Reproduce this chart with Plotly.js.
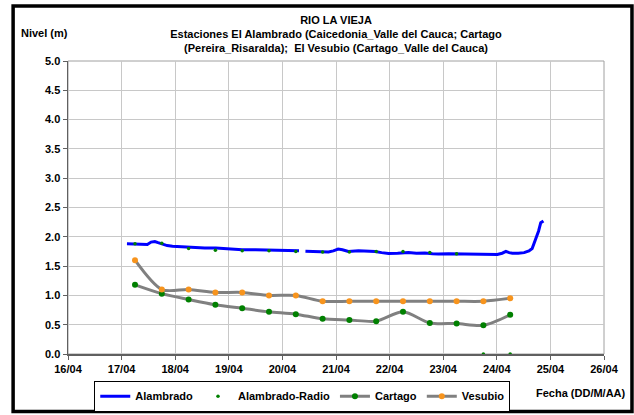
<!DOCTYPE html>
<html>
<head>
<meta charset="utf-8">
<script src="https://cdn.plot.ly/plotly-3.0.1.min.js"></script>
<style>
html,body{margin:0;padding:0;background:#fff;}
#chart{width:634px;height:415px;}
</style>
</head>
<body>
<div id="chart"></div>
<script>
// Alambrado (continuous record)
const alamTimes = [
 '2011-04-17 02:24','2011-04-17 04:48','2011-04-17 07:12','2011-04-17 09:36','2011-04-17 11:31',
 '2011-04-17 13:12','2011-04-17 14:53','2011-04-17 16:19','2011-04-17 18:14','2011-04-17 20:24',
 '2011-04-17 22:48','2011-04-18 02:24','2011-04-18 07:41','2011-04-18 13:12','2011-04-18 18:14',
 '2011-04-19 00:00','2011-04-19 06:00','2011-04-19 12:00','2011-04-19 18:00','2011-04-19 22:48',
 '2011-04-20 02:24','2011-04-20 04:34','2011-04-20 07:26','2011-04-20 08:53','2011-04-20 10:19',
 '2011-04-20 14:24','2011-04-20 20:38','2011-04-20 22:48','2011-04-21 00:58','2011-04-21 02:53',
 '2011-04-21 05:31','2011-04-21 10:05','2011-04-21 14:24','2011-04-21 17:31','2011-04-21 20:24',
 '2011-04-21 23:31','2011-04-22 03:36','2011-04-22 08:24','2011-04-22 12:00','2011-04-22 15:50',
 '2011-04-22 19:12','2011-04-22 21:50','2011-04-23 02:24','2011-04-23 06:43','2011-04-23 10:48',
 '2011-04-23 15:22','2011-04-23 20:24','2011-04-24 00:14','2011-04-24 02:24','2011-04-24 04:05',
 '2011-04-24 05:31','2011-04-24 06:58','2011-04-24 09:36','2011-04-24 12:14','2011-04-24 14:24',
 '2011-04-24 15:50','2011-04-24 17:17','2011-04-24 18:43','2011-04-24 19:41','2011-04-24 20:53'
];
const alamLevels = [
 1.88,1.88,1.87,1.88,1.87,
 1.91,1.92,1.90,1.88,1.85,
 1.84,1.83,1.82,1.81,1.81,
 1.79,1.78,1.78,1.77,1.77,
 1.76,1.755,1.76,null,1.755,
 1.75,1.74,1.76,1.79,1.78,
 1.75,1.76,1.75,1.75,1.73,
 1.715,1.72,1.73,1.72,1.725,
 1.71,1.705,1.71,1.71,1.705,
 1.70,1.70,1.70,1.72,1.75,
 1.73,1.72,1.72,1.73,1.76,
 1.80,1.95,2.10,2.24,2.27
];

// Twice-daily readings (06:00 and 18:00)
const readTimes = [
 '2011-04-17 06:00','2011-04-17 18:00','2011-04-18 06:00','2011-04-18 18:00',
 '2011-04-19 06:00','2011-04-19 18:00','2011-04-20 06:00','2011-04-20 18:00',
 '2011-04-21 06:00','2011-04-21 18:00','2011-04-22 06:00','2011-04-22 18:00',
 '2011-04-23 06:00','2011-04-23 18:00','2011-04-24 06:00'
];
const radioLevels   = [1.88,1.89,1.80,1.77,1.76,1.76,1.75,1.74,1.74,1.75,1.75,1.73,1.71,0.0,0.0];
const cartagoLevels = [1.18,1.03,0.93,0.84,0.78,0.72,0.68,0.60,0.58,0.56,0.72,0.53,0.52,0.49,0.67];
const vesubioLevels = [1.60,1.10,1.10,1.05,1.05,1.00,1.00,0.90,0.90,0.90,0.90,0.90,0.90,0.90,0.95];

const yTicks = [0,0.5,1,1.5,2,2.5,3,3.5,4,4.5,5];
const yTickText = yTicks.map(v => '<b>' + v.toFixed(1) + '</b>');

const FONT = '"Liberation Sans", Arial, sans-serif';
const BF = {family:FONT, size:11, color:'#000', weight:700};

const traces = [
 {name:'<b>Alambrado</b>', x:alamTimes, y:alamLevels, type:'scatter', mode:'lines',
  line:{color:'#0000ff', width:3}, connectgaps:false},
 {name:'<b>Alambrado-Radio</b>', x:readTimes, y:radioLevels, type:'scatter', mode:'markers',
  marker:{color:'#008000', size:3.5}},
 {name:'<b>Cartago</b>', x:readTimes, y:cartagoLevels, type:'scatter', mode:'lines+markers',
  line:{color:'#808080', width:3, shape:'spline', smoothing:0.8},
  marker:{color:'#008000', size:6}},
 {name:'<b>Vesubio</b>', x:readTimes, y:vesubioLevels, type:'scatter', mode:'lines+markers',
  line:{color:'#808080', width:3, shape:'spline', smoothing:0.8},
  marker:{color:'#f7941d', size:6}}
];

const layout = {
 width:634, height:415,
 margin:{l:67.5, r:29.5, t:61, b:61, autoexpand:false},
 paper_bgcolor:'#ffffff', plot_bgcolor:'#ffffff',
 font:BF,
 title:{
  text:'<b>RIO LA VIEJA<br>Estaciones El Alambrado (Caicedonia_Valle del Cauca; Cartago<br>(Pereira_Risaralda);  El Vesubio (Cartago_Valle del Cauca)</b>',
  x:0.5, xref:'paper', xanchor:'center',
  y:0.943, yref:'container', yanchor:'top',
  font:BF
 },
 xaxis:{
  type:'date', range:['2011-04-16','2011-04-26'],
  dtick:86400000, tick0:'2011-04-16', tickformat:'<b>%d/%m</b>',
  showgrid:true, gridcolor:'#c8c8c8', gridwidth:1,
  showline:true, linecolor:'#606060', linewidth:1.5,
  ticks:'outside', ticklen:4, tickcolor:'#606060',
  tickfont:BF, automargin:false,
  zeroline:false, fixedrange:true
 },
 yaxis:{
  range:[0,5], tickvals:yTicks, ticktext:yTickText,
  showgrid:true, gridcolor:'#c8c8c8', gridwidth:1,
  showline:true, linecolor:'#606060', linewidth:1.5,
  ticks:'outside', ticklen:4, tickcolor:'#606060',
  tickfont:BF, automargin:false,
  zeroline:false, fixedrange:true
 },
 showlegend:true,
 legend:{
  orientation:'h', x:0.049, xanchor:'left', y:-0.091, yanchor:'top',
  bordercolor:'#000', borderwidth:1, bgcolor:'#fff',
  font:BF, itemwidth:30, tracegroupgap:0
 },
 annotations:[
  {text:'<b>Nivel (m)</b>', xref:'paper', yref:'paper', x:-0.092, xanchor:'left',
   y:1.095, yanchor:'middle', showarrow:false, font:BF},
  {text:'<b>Fecha (DD/M/AA)</b>', xref:'paper', yref:'paper', x:1.045, xanchor:'right',
   y:-0.132, yanchor:'middle', showarrow:false, font:BF}
 ],
 shapes:[
  {type:'rect', xref:'paper', yref:'paper', x0:0, x1:1, y0:0, y1:1,
   line:{color:'#a0a0a0', width:1}, layer:'below'},
  {type:'rect', xref:'paper', yref:'paper', x0:-0.1024, x1:1.0522, y0:-0.1966, y1:1.1873,
   line:{color:'#000', width:3.5}}
 ]
};

Plotly.newPlot('chart', traces, layout, {displayModeBar:false, staticPlot:true});
</script>
</body>
</html>
